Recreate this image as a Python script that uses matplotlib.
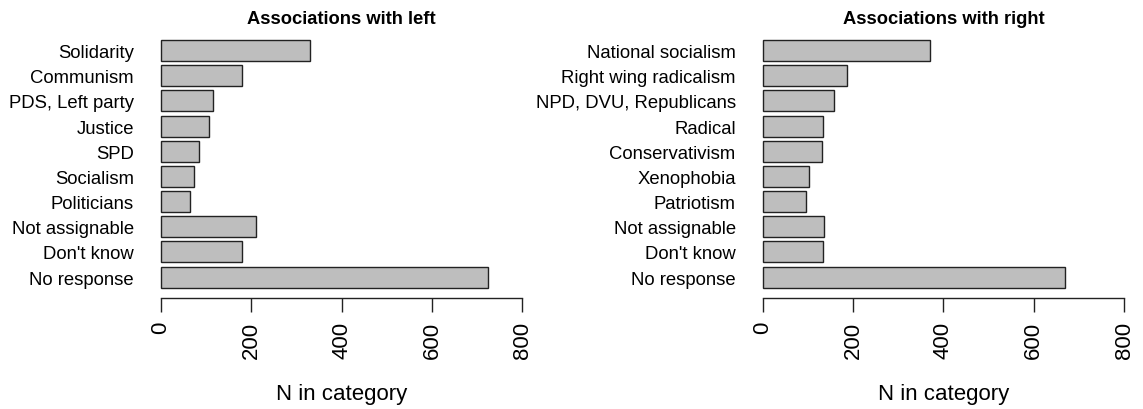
import matplotlib.pyplot as plt

# Categories listed top to bottom as in the chart
left_labels = ['Solidarity', 'Communism', 'PDS, Left party', 'Justice', 'SPD',
               'Socialism', 'Politicians', 'Not assignable', "Don't know", 'No response']
left_counts = [329, 179, 116, 107, 85, 73, 65, 211, 180, 723]

right_labels = ['National socialism', 'Right wing radicalism', 'NPD, DVU, Republicans',
                'Radical', 'Conservativism', 'Xenophobia', 'Patriotism',
                'Not assignable', "Don't know", 'No response']
right_counts = [370, 187, 159, 134, 131, 103, 96, 136, 134, 669]

x_ticks = [0, 200, 400, 600, 800]

plt.rcParams['font.family'] = ['Liberation Sans', 'DejaVu Sans']

fig = plt.figure(figsize=(11.43, 4.10), dpi=100)


def draw_panel(rect, labels, counts, title):
    ax = fig.add_axes(rect)
    n = len(labels)
    # R-style barplot positions: width 1, space 0.2, bottom bar first
    ypos = [0.7 + 1.2 * (n - 1 - i) for i in range(n)]
    ax.barh(ypos, counts, height=1.0, color='#BEBEBE', edgecolor='#222222',
            linewidth=1.0)
    ax.set_xlim(-32, 832)
    lo, hi = 0.2, 1.2 * n
    pad = 0.04 * (hi - lo)
    ax.set_ylim(lo - pad, hi + pad)

    for s in ['top', 'right', 'left']:
        ax.spines[s].set_visible(False)
    ax.spines['bottom'].set_bounds(0, 800)
    ax.spines['bottom'].set_linewidth(1.0)
    ax.spines['bottom'].set_color('#222222')

    ax.set_xticks(x_ticks)
    ax.set_xticklabels([str(t) for t in x_ticks], rotation=90, fontsize=16)
    ax.tick_params(axis='x', length=10, width=1.0, color='#222222', pad=7)

    ax.set_yticks(ypos)
    ax.set_yticklabels(labels, fontsize=13.3)
    ax.tick_params(axis='y', length=0, pad=9)

    ax.set_xlabel('N in category', fontsize=16, labelpad=18)
    ax.set_title(title, fontsize=13.2, fontweight='bold', pad=5)
    return ax


bottom = 1 - 298.5 / 410
height = (298.5 - 31.2) / 410
draw_panel([146.5 / 1143, bottom, 390.3 / 1143, height],
           left_labels, left_counts, 'Associations with left')
draw_panel([748.2 / 1143, bottom, 390.3 / 1143, height],
           right_labels, right_counts, 'Associations with right')

fig.savefig('out.png', dpi=100)
